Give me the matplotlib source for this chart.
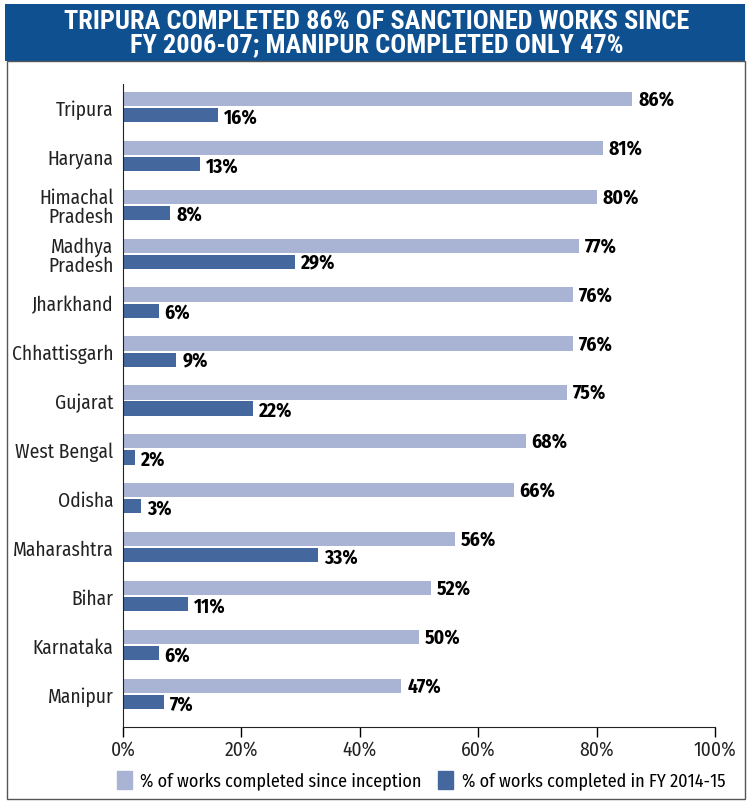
import matplotlib.pyplot as plt
from matplotlib.patches import Rectangle
from matplotlib import font_manager
import numpy as np

states = ["Tripura", "Haryana", "Himachal\nPradesh", "Madhya\nPradesh", "Jharkhand",
          "Chhattisgarh", "Gujarat", "West Bengal", "Odisha", "Maharashtra",
          "Bihar", "Karnataka", "Manipur"]
since_inception = [86, 81, 80, 77, 76, 76, 75, 68, 66, 56, 52, 50, 47]
fy_2014_15 = [16, 13, 8, 29, 6, 9, 22, 2, 3, 33, 11, 6, 7]
xticks = [0, 20, 40, 60, 80, 100]

light = "#a9b4d4"
dark = "#44679e"
title_blue = "#0e5090"

# pick a condensed face that is installed
installed = {f.name for f in font_manager.fontManager.ttflist}
def pick(options):
    for o in options:
        if o in installed:
            return o
    return "DejaVu Sans"

body_font = pick(["Fira Sans Condensed", "PT Sans Narrow", "Roboto Condensed", "Archivo Narrow",
                  "IBM Plex Sans Condensed", "Open Sans Condensed", "Sofia Sans Condensed",
                  "Saira SemiCondensed"])
title_font = pick(["Roboto Condensed", "Fira Sans Extra Condensed", "Barlow Condensed", "Oswald",
                   "Fira Sans Condensed", "Saira ExtraCondensed"])
plt.rcParams['font.family'] = [body_font, 'DejaVu Sans']

fig = plt.figure(figsize=(7.52, 8.04), dpi=100)
W, H = 752, 804

# title band and outer frame
fig.patches.append(Rectangle((5 / W, 1 - 62 / H), 740 / W, 57 / H, transform=fig.transFigure,
                             facecolor=title_blue, edgecolor="none"))
fig.patches.append(Rectangle((7 / W, 1 - 800 / H), 738 / W, 738 / H, transform=fig.transFigure,
                             facecolor="none", edgecolor="#555555", linewidth=1))
fig.text(377 / W, 1 - 34 / H, "TRIPURA COMPLETED 86% OF SANCTIONED WORKS SINCE\nFY 2006-07; MANIPUR COMPLETED ONLY 47%",
         ha="center", va="center", color="white", fontsize=19, fontweight=900, linespacing=0.95,
         family=[title_font, 'DejaVu Sans'])

ax = fig.add_axes([123 / W, 1 - 728 / H, 592 / W, 643 / H])
y = np.arange(len(states))
h = 0.29
off = 0.165
ax.barh(y - off, since_inception, height=h, color=light)
ax.barh(y + off, fy_2014_15, height=h, color=dark)

for yi, v in zip(y, since_inception):
    ax.text(v + 1.0, yi - off, f"{v}%", va="center", ha="left", fontsize=14, fontweight="bold")
for yi, v in zip(y, fy_2014_15):
    ax.text(v + 1.0, yi + off + 0.03, f"{v}%", va="center", ha="left", fontsize=14, fontweight="bold")

ax.set_xlim(0, 100)
ax.set_ylim(12.675, -0.47)
ax.set_yticks(y)
ax.set_yticklabels(states, fontsize=14, color="#222222", linespacing=1.0)
ax.tick_params(axis="y", length=0, pad=7)
ax.set_xticks(xticks)
ax.set_xticklabels([f"{t}%" for t in xticks], fontsize=14, color="#222222")
ax.tick_params(axis="x", length=7, width=1, direction="out", pad=2)
for s in ["top", "right"]:
    ax.spines[s].set_visible(False)
ax.spines["left"].set_color("#222222")
ax.spines["bottom"].set_color("#222222")

handles = [Rectangle((0, 0), 1, 1, color=light), Rectangle((0, 0), 1, 1, color=dark)]
fig.legend(handles, ["% of works completed since inception", "% of works completed in FY 2014-15"],
           loc="center", bbox_to_anchor=(421 / W, 1 - 781 / H), ncol=2, frameon=False, fontsize=13,
           handlelength=0.85, handleheight=1.15, handletextpad=0.45, columnspacing=0.9,
           borderpad=0, borderaxespad=0)

fig.savefig("out.png", dpi=100)
